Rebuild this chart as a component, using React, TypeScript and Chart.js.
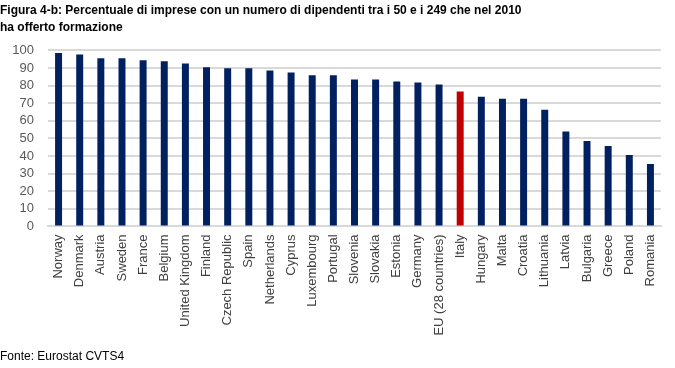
import React, { useEffect, useRef } from "react";
import { Chart, registerables } from "chart.js";

Chart.register(...registerables);

const countries = [
  "Norway", "Denmark", "Austria", "Sweden", "France", "Belgium", "United Kingdom",
  "Finland", "Czech Republic", "Spain", "Netherlands", "Cyprus", "Luxembourg",
  "Portugal", "Slovenia", "Slovakia", "Estonia", "Germany", "EU (28 countries)",
  "Italy", "Hungary", "Malta", "Croatia", "Lithuania", "Latvia", "Bulgaria",
  "Greece", "Poland", "Romania",
];

const values = [
  98.5, 97.7, 95.5, 95.5, 94.4, 93.8, 92.6, 90.4, 89.8, 89.8, 88.6, 87.4, 85.9,
  85.9, 83.5, 83.5, 82.4, 81.8, 80.6, 76.6, 73.7, 72.6, 72.6, 66.3, 54.0, 48.6,
  45.7, 40.6, 35.5,
];

const highlighted = "Italy";

const titleLines = [
  "Figura 4-b: Percentuale di imprese con un numero di dipendenti tra i 50 e i 249 che nel 2010",
  "ha offerto formazione",
];
const sourceNote = "Fonte: Eurostat CVTS4";

const yMin = 0;
const yMax = 100;
const yStep = 10;

export default function App() {
  const canvasRef = useRef<HTMLCanvasElement | null>(null);

  useEffect(() => {
    const canvas = canvasRef.current;
    if (!canvas) return;
    const chart = new Chart(canvas, {
      type: "bar",
      data: {
        labels: countries,
        datasets: [
          {
            data: values,
            backgroundColor: countries.map((c) => (c === highlighted ? "#C00000" : "#002060")),
            barPercentage: 0.33,
            categoryPercentage: 1,
          },
        ],
      },
      options: {
        animation: false,
        responsive: false,
        maintainAspectRatio: false,
        layout: { padding: { left: 0, right: 14, top: 0, bottom: 4 } },
        plugins: {
          legend: { display: false },
          tooltip: { enabled: false },
          title: {
            display: true,
            text: titleLines,
            align: "start",
            color: "#000000",
            font: { family: "Liberation Sans, Arial, sans-serif", size: 12, weight: "bold", lineHeight: 1.35 },
            padding: { top: 3, bottom: 15 },
          },
          subtitle: {
            display: true,
            text: sourceNote,
            position: "bottom",
            align: "start",
            color: "#000000",
            font: { family: "Liberation Sans, Arial, sans-serif", size: 12, weight: "normal" },
            padding: { top: 6, bottom: 0 },
          },
        },
        scales: {
          x: {
            grid: { display: false, drawTicks: false },
            border: { display: true, color: "#d9d9d9", width: 2 },
            ticks: {
              color: "#404040",
              font: { family: "Liberation Sans, Arial, sans-serif", size: 13 },
              minRotation: 90,
              maxRotation: 90,
              autoSkip: false,
              padding: 8,
            },
          },
          y: {
            min: yMin,
            max: yMax,
            afterFit: (s: any) => {
              s.width = 48;
            },
            grid: { color: "#d9d9d9", lineWidth: 2, drawTicks: false },
            border: { display: false },
            ticks: {
              stepSize: yStep,
              autoSkip: false,
              color: "#595959",
              font: { family: "Liberation Sans, Arial, sans-serif", size: 13 },
              padding: 14,
            },
          },
        },
      },
    });
    return () => chart.destroy();
  }, []);

  return (
    <div style={{ position: "fixed", left: 0, top: 0, width: 675, height: 368, background: "#fff" }}>
      <canvas ref={canvasRef} width={675} height={368} style={{ display: "block" }} />
    </div>
  );
}
